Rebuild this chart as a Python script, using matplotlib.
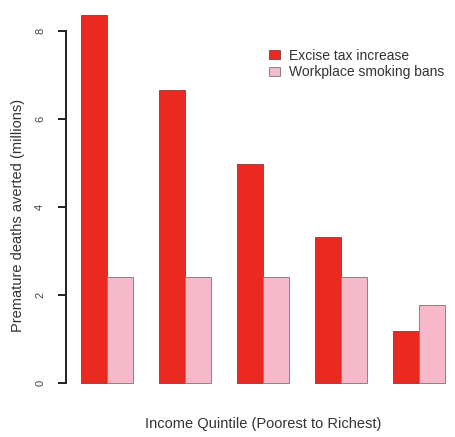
import matplotlib
matplotlib.use("Agg")
import matplotlib.pyplot as plt
from matplotlib.patches import Patch
import numpy as np

# Werte (Millionen)
quintiles = ["Q1", "Q2", "Q3", "Q4", "Q5"]
excise_tax = [8.36, 6.66, 4.98, 3.31, 1.19]
smoking_bans = [2.42, 2.42, 2.42, 2.42, 1.77]
series_names = ["Excise tax increase", "Workplace smoking bans"]
y_ticks = [0, 2, 4, 6, 8]

red = "#ea2a21"
pink = "#f5b9c9"

plt.rcParams["font.family"] = ["Liberation Sans", "DejaVu Sans"]

fig = plt.figure(figsize=(4.55, 4.37), dpi=100)
W, H = 455, 437
ax = fig.add_axes([66 / W, (H - 398) / H, (W - 66) / W, 398 / H])

# R-artige Positionen: Gruppen aus zwei Balken, eine Lücke dazwischen
x = np.arange(len(quintiles)) * 3
ax.bar(x + 1.5, excise_tax, width=1, color=red, edgecolor="#8a4a46", linewidth=0.7)
ax.bar(x + 2.5, smoking_bans, width=1, color=pink, edgecolor="#8f7f84", linewidth=0.7)

ax.set_xlim(0.44, 15.4)
ax.set_ylim(-0.336, 8.7)

for s in ["top", "right", "bottom"]:
    ax.spines[s].set_visible(False)
ax.spines["left"].set_bounds(0, 8)
ax.spines["left"].set_linewidth(1.4)
ax.spines["left"].set_color("#222222")
ax.set_xticks([])
ax.set_yticks(y_ticks)
ax.set_yticklabels([str(t) for t in y_ticks], rotation=90, va="center",
                   fontsize=8, color="#444444")
ax.tick_params(axis="y", length=6, width=1.4, color="#222222", pad=9)

fig.text(263 / W, 1 - 424 / H, "Income Quintile (Poorest to Richest)",
         ha="center", va="center", fontsize=10.5, color="#333333")
fig.text(18 / W, 1 - 215 / H, "Premature deaths averted (millions)",
         ha="center", va="center", rotation=90, fontsize=10.5, color="#333333")

handles = [Patch(facecolor=red, edgecolor="#8a4a46", linewidth=0.7),
           Patch(facecolor=pink, edgecolor="#8f7f84", linewidth=0.7)]
fig.legend(handles, series_names, loc="upper left",
           bbox_to_anchor=(256 / W, 1 - 36 / H), frameon=False,
           fontsize=10, handlelength=0.85, handleheight=0.55,
           handletextpad=0.6, labelspacing=0.2, labelcolor="#333333")

fig.savefig("out.png", dpi=100)
